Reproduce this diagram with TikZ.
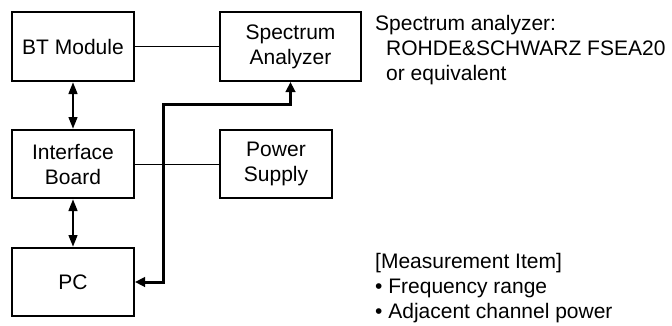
\documentclass[tikz,border=0pt]{standalone}
\usepackage{fontspec}
\setmainfont{Liberation Sans}
\usetikzlibrary{arrows.meta}

\tikzset{block/.style={draw,line width=2pt,inner sep=0pt,align=center,font=\fontsize{21}{25}\selectfont}}
\tikzset{link/.style={line width=1pt}}
\tikzset{dataflow/.style={line width=2.7pt,{Triangle[length=12pt,width=8.5pt]}-{Triangle[length=12pt,width=8.5pt]}}}
\tikzset{signal/.style={line width=3pt,{Triangle[length=10pt,width=9.5pt]}-{Triangle[length=10pt,width=9.5pt]}}}
\tikzset{note/.style={anchor=north west,align=left,inner sep=0pt,font=\fontsize{21}{25}\selectfont}}

\begin{document}
\begin{tikzpicture}[x=1pt,y=-1pt]
	\useasboundingbox (0,0) rectangle (672,325);

	\node[block,minimum width=122pt,minimum height=69pt] (bt) at (73,46.5) {BT Module};
	\node[block,minimum width=141pt,minimum height=69pt] (sa) at (290.5,46.5) {Spectrum\\Analyzer};
	\node[block,minimum width=122pt,minimum height=68pt] (ib) at (73,164) {Interface\\Board};
	\node[block,minimum width=112pt,minimum height=68pt] (ps) at (276,164) {Power\\Supply};
	\node[block,minimum width=122pt,minimum height=68pt] (pc) at (73,282) {PC};
	\coordinate (bend) at (163,104);

	\draw[link] (bt) -- (sa);
	\draw[link] (ib) -- (ps);
	\draw[dataflow] (bt) -- (ib);
	\draw[dataflow] (ib) -- (pc);
	\draw[signal] (sa.south) |- (bend) |- (pc.east);

	\node[note] (spec) at (375,15) {Spectrum analyzer:\\\hspace*{11pt}ROHDE\&SCHWARZ FSEA20\\\hspace*{11pt}or equivalent};
	\node[note] (items) at (375,253) {[Measurement Item]\\•~Frequency range\\•~Adjacent channel power};
\end{tikzpicture}
\end{document}
